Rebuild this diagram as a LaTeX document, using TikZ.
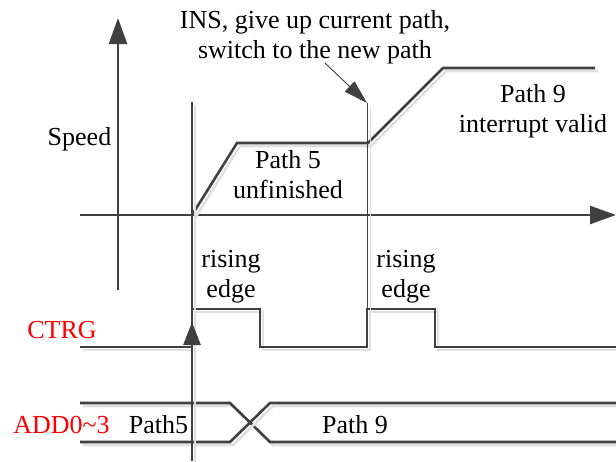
\documentclass[tikz,border=0pt]{standalone}
\usepackage{fontspec}
\setmainfont{Liberation Serif}
\usetikzlibrary{arrows.meta}

\tikzset{
  sig/.style={line width=2.6pt, draw=black!75},
  shade/.style={line width=2.6pt, draw=black!12},
  thin sig/.style={line width=0.9pt, draw=black!75},
  lbl/.style={font=\fontsize{26}{30.5}\selectfont, align=center, inner sep=0pt},
  red lbl/.style={lbl, text=red},
  big tip/.style={-{Triangle[length=26pt,width=18pt]}},
}
% signal with light grey shadow
\newcommand\wavedraw[2][sig]{%
  \draw[shade, shift={(3,3)}] #2;
  \draw[#1] #2;}

\begin{document}
\begin{tikzpicture}[x=1pt, y=-1pt]
                    \useasboundingbox (0,0) rectangle (616,461);

                    % axes
                    \draw[sig, big tip] (118,290) -- (118,18);
                    \draw[sig, big tip] (80,215) -- (616,215);

                    % speed profile
                    \wavedraw{(192,215) -- (237,143) -- (368,143) -- (443,68) -- (595,68)}

                    % CTRG pulses
                    \wavedraw{(80,347) -- (192,347) -- (192,309) -- (260,309) -- (260,347)
                        -- (367,347) -- (367,309) -- (435,309) -- (435,347) -- (616,347)}

                    % ADD0~3 bus
                    \wavedraw{(80,403) -- (230,403) -- (270,442) -- (616,442)}
                    \wavedraw{(80,442) -- (230,442) -- (270,403) -- (616,403)}

                    % trigger lines
                    \wavedraw{(192,102) -- (192,461)}
                    \draw[shade, line width=0.9pt, shift={(3,3)}] (367,103) -- (367,309);
                    \coordinate (ins top) at (367,103);
                    \draw[thin sig] (ins top) -- (367,309);
                    \draw[sig, -{Triangle[length=23pt,width=17pt]}] (192,347) -- (192,322);

                    % labels
                    \node[lbl, anchor=north] (ins) at (315,10) {INS, give up current path,\\switch to the new path};
                    \coordinate (ins from) at (325,63);
                    \draw[thin sig, -{Triangle[length=24pt,width=14pt]}] (ins from) -- (ins top);
                    \node[lbl, anchor=base] (speed) at (79.5,145) {Speed};
                    \node[lbl, anchor=north] (p5) at (288,150) {Path 5\\unfinished};
                    \node[lbl, anchor=north] (p9) at (533,84) {Path 9\\interrupt valid};
                    \foreach \x/\name in {231/edgeA, 406/edgeB}
                        \node[lbl, anchor=north] (\name) at (\x,250) {rising\\edge};
                    \node[red lbl, anchor=base] (ctrg) at (62,338) {CTRG};
                    \node[red lbl, anchor=base] (add) at (61.5,433) {ADD0\textasciitilde3};
                    \node[lbl, anchor=base] (bus5) at (158.5,433) {Path5};
                    \node[lbl, anchor=base] (bus9) at (355,433) {Path 9};
                \end{tikzpicture}
\end{document}
